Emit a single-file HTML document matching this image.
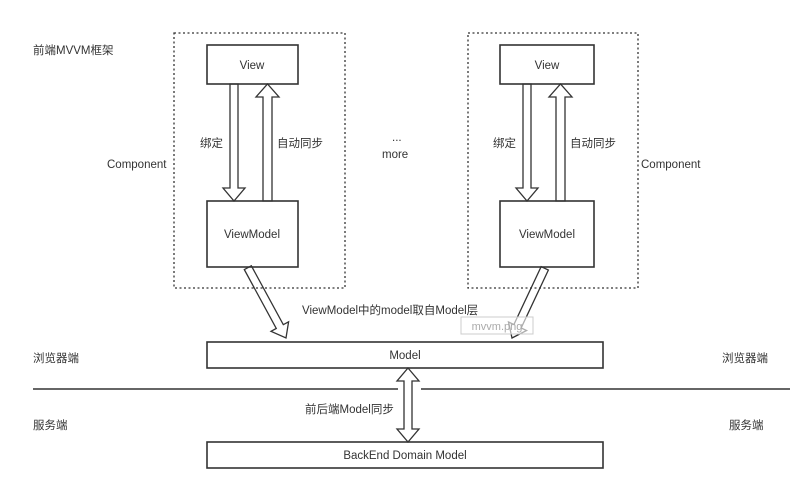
<!DOCTYPE html>
<html><head><meta charset="utf-8"><style>
html,body{margin:0;padding:0;background:#fff;}
svg{display:block;}
text{font-family:"Liberation Sans","Noto Sans CJK SC",sans-serif;font-size:11.5px;fill:#333;}
</style></head><body>
<svg width="799" height="491" viewBox="0 0 799 491" xmlns="http://www.w3.org/2000/svg">
<g fill="none" stroke="#333" stroke-width="1.3">
<rect x="174" y="33" width="171" height="255" stroke-dasharray="2,2.5"/>
<rect x="468" y="33" width="170" height="255" stroke-dasharray="2,2.5"/>
<rect x="207" y="45" width="91" height="39" stroke-width="1.6"/>
<rect x="207" y="201" width="91" height="66" stroke-width="1.6"/>
<rect x="500" y="45" width="94" height="39" stroke-width="1.6"/>
<rect x="500" y="201" width="94" height="66" stroke-width="1.6"/>
<rect x="207" y="342" width="396" height="26" stroke-width="1.6"/>
<rect x="207" y="442" width="396" height="26" stroke-width="1.6"/>
<line x1="33" y1="389" x2="398" y2="389" stroke-width="1.6"/>
<line x1="421" y1="389" x2="790" y2="389" stroke-width="1.6"/>
<polygon points="230,84 238,84 238,188 245,188 234,201 223,188 230,188"/>
<polygon points="263,201 272,201 272,97 279,97 267.5,84 256,97 263,97"/>
<polygon points="523,84 531,84 531,188 538,188 527,201 516,188 523,188"/>
<polygon points="556,201 565,201 565,97 572,97 560.5,84 549,97 556,97"/>
<polygon points="408,368 419,381 412,381 412,429 419,429 408,442 397,429 404,429 404,381 397,381"/>
<polygon transform="translate(286,338) rotate(61.5)" points="-80,-4 -13,-4 -13,-10 0,0 -13,10 -13,4 -80,4"/>
<polygon transform="translate(512,338) rotate(115.2)" points="-77,-4 -13,-4 -13,-10 0,0 -13,10 -13,4 -77,4"/>
</g>
<rect x="461" y="317" width="72" height="17" fill="#fff" fill-opacity="0.6" stroke="#ccc" stroke-width="1"/>
<text x="497" y="330" text-anchor="middle" style="fill:#aaa;font-size:11px">mvvm.png</text>
<text x="33" y="54">前端MVVM框架</text>
<text x="252" y="69" text-anchor="middle">View</text>
<text x="252" y="238" text-anchor="middle">ViewModel</text>
<text x="547" y="69" text-anchor="middle">View</text>
<text x="547" y="238" text-anchor="middle">ViewModel</text>
<text x="107" y="168">Component</text>
<text x="641" y="168">Component</text>
<text x="200" y="147">绑定</text>
<text x="277" y="147">自动同步</text>
<text x="493" y="147">绑定</text>
<text x="570" y="147">自动同步</text>
<text x="392" y="141">...</text>
<text x="382" y="158">more</text>
<text x="302" y="314">ViewModel中的model取自Model层</text>
<text x="405" y="359" text-anchor="middle">Model</text>
<text x="405" y="459" text-anchor="middle">BackEnd Domain Model</text>
<text x="33" y="362">浏览器端</text>
<text x="722" y="362">浏览器端</text>
<text x="33" y="429">服务端</text>
<text x="729" y="429">服务端</text>
<text x="305" y="413">前后端Model同步</text>
</svg>
</body></html>
